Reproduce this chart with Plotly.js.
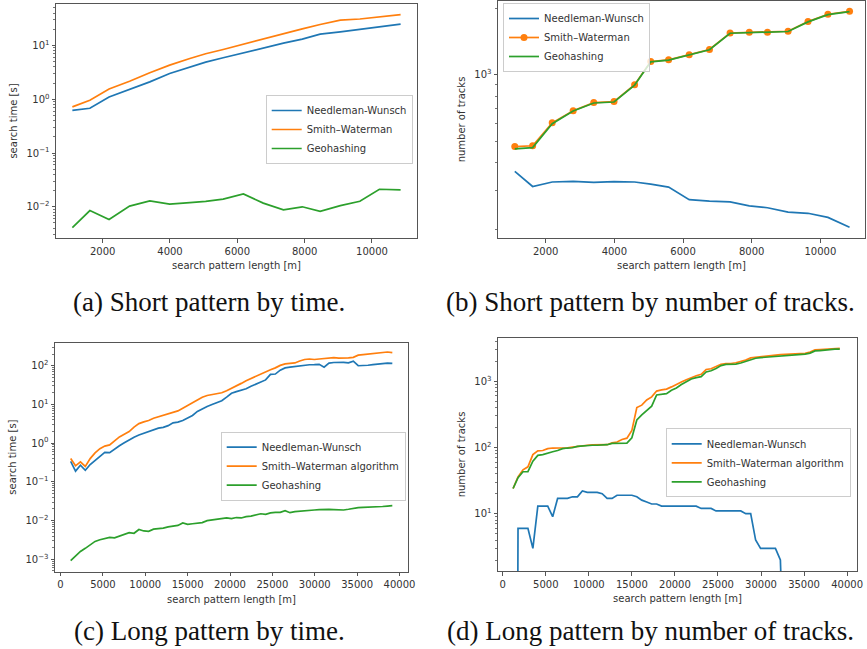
<!DOCTYPE html>
<html>
<head>
<meta charset="utf-8">
<script src="https://cdn.plot.ly/plotly-3.0.1.min.js"></script>
<style>html,body{margin:0;padding:0;background:#fff;}#chart{width:867px;height:649px;}</style>
</head>
<body>
<div id="chart"></div>
<script>
// ---------- DATA ----------
const seriesNames = ["Needleman-Wunsch", "Smith\u2013Waterman", "Geohashing"];
const seriesNamesLong = ["Needleman-Wunsch", "Smith\u2013Waterman algorithm", "Geohashing"];

// (a)/(b) short pattern
const xShort = [1100,1620,2190,2800,3400,3990,4590,5060,5580,6180,6770,7370,7930,8460,9060,9640,10220,10850];
const aNW  = [0.62,0.68,1.1,1.5,2.1,3.0,4.0,4.9,5.9,7.3,9.1,11,13.1,16.2,17.8,20,22,24.8];
const aSW  = [0.72,0.96,1.55,2.15,3.1,4.3,5.7,7.0,8.4,10.6,13.3,16.7,20.3,24.5,29.5,31,34,37.5];
const aGeo = [0.0041,0.0085,0.0058,0.0103,0.0129,0.0112,0.012,0.0126,0.0139,0.0174,0.0117,0.0088,0.010,0.0082,0.0105,0.0127,0.0212,0.0206];

const bNW  = [365,312,327,329,326,328,327,320,310,272,268,266,255,250,239,236,226,204];
const bSW  = [473,477,606,688,748,756,901,1149,1169,1231,1301,1546,1556,1556,1574,1741,1879,1937];
const bGeo = [462,468,600,685,745,753,898,1145,1166,1228,1298,1542,1552,1552,1570,1736,1872,1930];

// (c)/(d) long pattern
const xLong = [1200,1775,2350,2925,3500,4075,4650,5225,5800,6375,6950,7525,8100,8675,9250,9825,10400,10975,11550,12125,
  12700,13275,13850,14425,15000,15575,16150,16725,17300,17875,18450,19025,19600,20175,20750,21325,21900,22475,23050,23625,
  24200,24775,25350,25925,26500,27075,27650,28225,28800,29375,29950,30525,31100,31675,32250,32825,33400,33975,34550,35125,
  35700,36275,36850,37425,38000,38575,39150];

const cNW = [0.34,0.19,0.27,0.20,0.28,0.36,0.46,0.58,0.57,0.72,
  0.86,1.02,1.22,1.43,1.62,1.80,1.98,2.25,2.45,2.55,
  2.83,3.35,3.5,3.85,4.4,5.2,6.6,7.8,8.9,10.0,
  11.2,12.5,15.5,19.5,21.5,23,25.5,29.5,33,37,
  43,60,61,77,88,92,96,101,104,106,
  107,109,92,117,121,124,122,119,131,100,
  100,103,107,111,114,117,115];
const cSW = [0.40,0.26,0.33,0.25,0.40,0.56,0.72,0.84,0.90,1.15,
  1.45,1.70,2.0,2.6,3.2,3.55,3.85,4.4,4.8,5.3,
  5.8,6.3,6.8,8.0,9.2,11.0,13.0,15.3,17.0,18.2,
  18.8,20.0,22.5,26,29,35,41,47,53,61,
  70,79,88,102,112,115,118,132,145,149,
  145,149,152,156,161,157,156,159,165,188,
  193,198,207,213,219,226,218];
const cGeo = [0.00092,0.00125,0.00160,0.00192,0.00235,0.0029,0.0032,0.0035,0.0037,0.0036,
  0.0040,0.0044,0.0049,0.0047,0.0059,0.0054,0.0053,0.0060,0.0061,0.0064,
  0.0069,0.0073,0.0075,0.0087,0.0080,0.0083,0.0085,0.0089,0.0100,0.0105,
  0.0108,0.0115,0.0118,0.0113,0.0120,0.0117,0.0127,0.0131,0.0138,0.0150,
  0.0145,0.0158,0.0163,0.0163,0.0180,0.0160,0.0170,0.0173,0.0174,0.0180,
  0.0188,0.0193,0.0196,0.0195,0.0193,0.0190,0.0188,0.0196,0.0208,0.0216,
  0.0220,0.0221,0.0224,0.0227,0.0231,0.0237,0.0243];

const dNW = [0,6,6,6,3,13,13,13,9,17,
  17,17,18,18,22,21,21,21,20,17,
  17,19,19,19,19,18,16,15,14,14,
  13,13,13,13,13,13,13,13,12,12,
  12,11,11,11,11,11,11,10,10,4,
  3,3,3,3,2,0,0,0,0,0,
  0,0,0,0,0,0,0];
const dSW = [24,36,46,51,78,89,90,96,98,98,
  99,99,101,104,106,108,109,110,110,110,
  117,121,132,138,180,400,435,520,580,710,
  740,760,820,880,970,1050,1130,1210,1270,1500,
  1540,1650,1800,1850,1850,1900,1980,2080,2250,2300,
  2340,2380,2420,2470,2510,2540,2555,2565,2585,2640,
  2750,2970,3010,3050,3100,3120,3120];
const dGeo = [24,35,43,43,62,76,78,83,86,90,
  96,98,99,104,106,107,108,108,109,110,
  115,116,116,116,140,260,310,360,420,620,
  630,650,730,790,890,980,1080,1130,1170,1380,
  1440,1560,1720,1790,1790,1810,1880,1990,2130,2220,
  2270,2300,2330,2370,2420,2450,2465,2480,2495,2560,
  2650,2860,2900,2960,3020,3045,3045];

// tick labels
const xTicksShort = [2000,4000,6000,8000,10000];
const xTicksLong = [0,5000,10000,15000,20000,25000,30000,35000,40000];
const yTicksA = [0.01,0.1,1,10];
const yTextA = ["10<sup>\u22122</sup>","10<sup>\u22121</sup>","10<sup>0</sup>","10<sup>1</sup>"];
const yTicksB = [1000];
const yTextB = ["10<sup>3</sup>"];
const yTicksC = [0.001,0.01,0.1,1,10,100];
const yTextC = ["10<sup>\u22123</sup>","10<sup>\u22122</sup>","10<sup>\u22121</sup>","10<sup>0</sup>","10<sup>1</sup>","10<sup>2</sup>"];
const yTicksD = [10,100,1000];
const yTextD = ["10<sup>1</sup>","10<sup>2</sup>","10<sup>3</sup>"];
const captions = ["(a) Short pattern by time.","(b) Short pattern by number of tracks.","(c) Long pattern by time.","(d) Long pattern by number of tracks."];
const xTitle = "search pattern length [m]";
const yTitleTime = "search time [s]";
const yTitleTracks = "number of tracks";

// ---------- LAYOUT / STYLE ----------
const W = 867, H = 649;
const colors = ["#1f77b4","#ff7f0e","#2ca02c"];
const xd = (l, r) => [l / W, r / W];
const yd = (t, b) => [1 - b / H, 1 - t / H];
// matplotlib clips non-positive values on log axes to a tiny positive number
const logSafe = arr => arr.map(v => (v > 0 ? v : 1e-20));

function minorVals(lo, hi) {
  const out = [];
  for (let k = Math.floor(lo); k <= Math.ceil(hi); k++)
    for (let d = 2; d <= 9; d++) out.push(d * Math.pow(10, k));
  return out;
}

const tickFont = {family: "DejaVu Sans, sans-serif", size: 10, color: "#333"};
const titleFont = {family: "DejaVu Sans, sans-serif", size: 10, color: "#333"};
const common = {showline: true, mirror: true, linecolor: "#555", linewidth: 1, ticks: "outside",
  ticklen: 3.5, tickwidth: 1, tickcolor: "#555", showgrid: false, zeroline: false, tickfont: tickFont};

function xAxis(dom, range, ticks, anchor) {
  return Object.assign({}, common, {domain: dom, range: range, anchor: anchor,
    tickmode: "array", tickvals: ticks, ticktext: ticks.map(String),
    title: {text: xTitle, font: titleFont, standoff: 6}});
}
function yAxis(dom, range, ticks, texts, title, anchor) {
  return Object.assign({}, common, {domain: dom, type: "log", range: range, anchor: anchor,
    tickmode: "array", tickvals: ticks, ticktext: texts,
    minor: {ticks: "outside", ticklen: 2, tickwidth: 0.8, tickcolor: "#555", tickmode: "array",
      tickvals: minorVals(range[0], range[1]), showgrid: false},
    title: {text: title, font: titleFont, standoff: 6}});
}

function mk(x, y, i, names, xa, ya, leg, extra) {
  return Object.assign({x: x, y: y, name: names[i], xaxis: xa, yaxis: ya, legend: leg,
    type: "scatter", mode: "lines", line: {color: colors[i], width: 1.7}}, extra || {});
}

const traces = [
  mk(xShort, aNW, 0, seriesNames, "x", "y", "legend"),
  mk(xShort, aSW, 1, seriesNames, "x", "y", "legend"),
  mk(xShort, aGeo, 2, seriesNames, "x", "y", "legend"),
  mk(xShort, bNW, 0, seriesNames, "x2", "y2", "legend2"),
  mk(xShort, bSW, 1, seriesNames, "x2", "y2", "legend2", {mode: "lines+markers", marker: {size: 7, color: colors[1]}}),
  mk(xShort, bGeo, 2, seriesNames, "x2", "y2", "legend2"),
  mk(xLong, cNW, 0, seriesNamesLong, "x3", "y3", "legend3"),
  mk(xLong, cSW, 1, seriesNamesLong, "x3", "y3", "legend3"),
  mk(xLong, cGeo, 2, seriesNamesLong, "x3", "y3", "legend3"),
  mk(xLong, logSafe(dNW), 0, seriesNamesLong, "x4", "y4", "legend4"),
  mk(xLong, dSW, 1, seriesNamesLong, "x4", "y4", "legend4"),
  mk(xLong, dGeo, 2, seriesNamesLong, "x4", "y4", "legend4")
];

function legend(l, t) {
  return {x: l / W, y: 1 - t / H, xanchor: "left", yanchor: "top", bgcolor: "rgba(255,255,255,0.8)",
    bordercolor: "#ccc", borderwidth: 1, font: {family: "DejaVu Sans, sans-serif", size: 10, color: "#333"},
    tracegroupgap: 0, itemwidth: 30};
}

const capFont = {family: "Liberation Serif, Times New Roman, serif", size: 27, color: "#111"};
function cap(text, cx, cy) {
  return {text: text, x: cx / W, y: 1 - cy / H, xref: "paper", yref: "paper", showarrow: false,
    xanchor: "center", yanchor: "middle", font: capFont};
}

const layout = {
  width: W, height: H, margin: {l: 0, r: 0, t: 0, b: 0}, paper_bgcolor: "#fff", plot_bgcolor: "#fff",
  showlegend: true,
  xaxis: xAxis(xd(56, 417), [614, 11337], xTicksShort, "y"),
  yaxis: yAxis(yd(4, 238), [-2.58, 1.77], yTicksA, yTextA, yTitleTime, "x"),
  xaxis2: xAxis(xd(498, 865), [611, 11300], xTicksShort, "y2"),
  yaxis2: yAxis(yd(1, 238), [2.261, 3.334], yTicksB, yTextB, yTitleTracks, "x2"),
  xaxis3: xAxis(xd(55, 408), [-650, 41000], xTicksLong, "y3"),
  yaxis3: yAxis(yd(342.5, 571.7), [-3.32, 2.60], yTicksC, yTextC, yTitleTime, "x3"),
  xaxis4: xAxis(xd(498, 857), [-550, 41150], xTicksLong, "y4"),
  yaxis4: yAxis(yd(338, 571), [0.135, 3.652], yTicksD, yTextD, yTitleTracks, "x4"),
  legend: legend(265.7, 95),
  legend2: legend(503, 3),
  legend3: legend(220.7, 431.7),
  legend4: legend(665.7, 428.3),
  annotations: [cap(captions[0], 209, 302), cap(captions[1], 650, 302), cap(captions[2], 209, 631), cap(captions[3], 650, 631)]
};

Plotly.newPlot("chart", traces, layout, {staticPlot: true, displayModeBar: false});
</script>
</body>
</html>
